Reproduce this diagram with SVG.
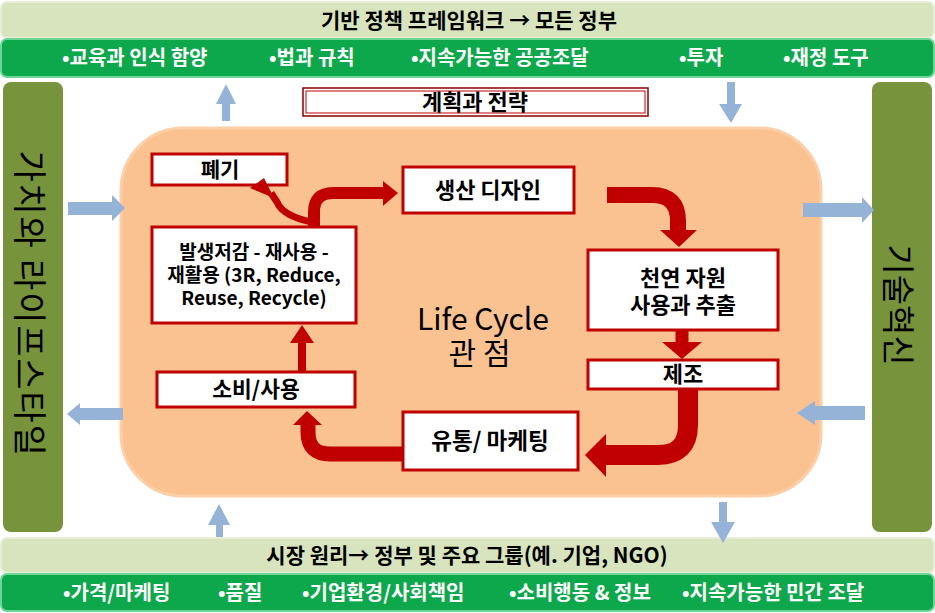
<svg xmlns="http://www.w3.org/2000/svg" width="935" height="613" viewBox="0 0 935 613">
<defs>
<style>
.k{font-family:"Noto Sans CJK KR","Liberation Sans",sans-serif;}
.lb{fill:#D8E4BE;stroke:#E6EED6;stroke-width:2;}
.dg{fill:#0DA84C;stroke:#6FD596;stroke-width:2;}
.ol{fill:#77933C;}
.node{fill:#FFFFFF;stroke:#C00000;stroke-width:3;}
.bt{font-weight:bold;fill:#000;text-anchor:middle;}
.wt{font-size:20px;font-weight:bold;fill:#FFF;}
.ba{fill:#95B3D7;}
.ra{fill:none;stroke:#C00000;stroke-linejoin:round;}
.rh{fill:#C00000;}
</style>
</defs>
<rect width="935" height="613" fill="#FFFFFF"/>

<g id="top-policy">
<rect class="lb" x="1" y="2" width="933" height="36" rx="6"/>
<text class="k bt" x="469" y="28" font-size="21">기반 정책 프레임워크 → 모든 정부</text>
<rect class="dg" x="1" y="39" width="933" height="38" rx="6"/>
<g class="k wt">
<text x="62" y="65">•교육과 인식 함양</text>
<text x="269" y="65">•법과 규칙</text>
<text x="411" y="65">•지속가능한 공공조달</text>
<text x="679" y="65">•투자</text>
<text x="783" y="65">•재정 도구</text>
</g>
</g>

<g id="bottom-market">
<rect class="lb" x="1" y="538" width="933" height="35" rx="6"/>
<text class="k bt" x="467" y="563" font-size="21">시장 원리→ 정부 및 주요 그룹(예. 기업, NGO)</text>
<rect class="dg" x="1" y="574" width="933" height="37" rx="6"/>
<g class="k wt">
<text x="63" y="600">•가격/마케팅</text>
<text x="218" y="600">•품질</text>
<text x="302" y="600">•기업환경/사회책임</text>
<text x="509" y="600">•소비행동 &amp; 정보</text>
<text x="682" y="600">•지속가능한 민간 조달</text>
</g>
</g>

<g id="values-lifestyle">
<rect class="ol" x="3" y="82" width="60" height="450" rx="8"/>
<text class="k" transform="translate(31,304) rotate(90)" font-size="34" letter-spacing="1.8" text-anchor="middle" dominant-baseline="central" fill="#000">가치와 라이프스타일</text>
</g>

<g id="tech-innovation">
<rect class="ol" x="872" y="82" width="60" height="450" rx="8"/>
<text class="k" transform="translate(900,305) rotate(90)" font-size="33" text-anchor="middle" dominant-baseline="central" fill="#000">기술혁신</text>
</g>

<g id="life-cycle-area">
<rect x="121" y="128" width="700" height="368" rx="62" fill="#FAC191" stroke="#FBCFA8" stroke-width="3"/>
<text class="k" font-size="30" text-anchor="middle" fill="#000"><tspan x="483" y="330">Life Cycle</tspan><tspan x="483" y="364" letter-spacing="7">관점</tspan></text>
</g>

<g id="planning">
<rect x="303" y="88" width="345" height="28" fill="#FFF" stroke="#8B0000" stroke-width="1.5"/>
<rect x="306" y="91" width="339" height="22" fill="none" stroke="#C00000" stroke-width="1"/>
<text class="k bt" x="475" y="110" font-size="22">계획과 전략</text>
</g>

<g id="disposal">
<rect class="node" x="152" y="154" width="135" height="31"/>
<text class="k bt" x="220" y="177" font-size="21">폐기</text>
</g>

<g id="design">
<rect class="node" x="403" y="167" width="171" height="46"/>
<text class="k bt" x="488" y="198" font-size="22">생산 디자인</text>
</g>

<g id="reduce-reuse-recycle">
<rect class="node" x="152" y="227" width="204" height="96"/>
<text class="k bt" font-size="19"><tspan x="254" y="259">발생저감 - 재사용 -</tspan><tspan x="254" y="282">재활용 (3R, Reduce,</tspan><tspan x="254" y="305">Reuse, Recycle)</tspan></text>
</g>

<g id="natural-resources">
<rect class="node" x="588" y="250" width="190" height="80"/>
<text class="k bt" font-size="22"><tspan x="683" y="286">천연 자원</tspan><tspan x="683" y="313">사용과 추출</tspan></text>
</g>

<g id="manufacturing">
<rect class="node" x="588" y="360" width="190" height="29"/>
<text class="k bt" x="683" y="382" font-size="22">제조</text>
</g>

<g id="consumption">
<rect class="node" x="157" y="372" width="198" height="35"/>
<text class="k bt" x="256" y="397" font-size="21.5">소비/사용</text>
</g>

<g id="distribution">
<rect class="node" x="403" y="412" width="175" height="58"/>
<text class="k bt" x="490" y="449" font-size="22.5">유통/ 마케팅</text>
</g>

<g id="connectors">
<polygon class="ba" points="222,121 222,104 216,104 226,84 236,104 230,104 230,121"/>
<polygon class="ba" points="727,82 735,82 735,104 742,104 731,123 719,104 727,104"/>
<polygon class="ba" points="68,202 112,202 112,195 125,208 112,221 112,215 68,215"/>
<polygon class="ba" points="123,408 80,408 80,403 67,414 80,425 80,420 123,420"/>
<polygon class="ba" points="803,203 862,203 862,197 874,210 862,223 862,217 803,217"/>
<polygon class="ba" points="865,406 815,406 815,401 797,413 815,425 815,420 865,420"/>
<polygon class="ba" points="216,537 216,525 208,525 219,504 230,525 223,525 223,537"/>
<polygon class="ba" points="719,502 727,502 727,522 735,522 723,543 711,522 719,522"/>

<path class="ra" stroke-width="16" d="M607,195 H652 Q678,195 678,221 V231"/>
<polygon class="rh" points="660,230 697,230 679,247"/>

<path class="ra" stroke-width="13" d="M682,330 V343"/>
<polygon class="rh" points="662,342 702,342 682,359"/>

<path class="ra" stroke-width="20" d="M688,389 V425 Q688,455 658,455 H604"/>
<polygon class="rh" points="606,434 606,477 585,455"/>

<path class="ra" stroke-width="15" d="M403,454 H330 Q308,454 308,432 V424"/>
<polygon class="rh" points="293,425 322,425 307,411"/>

<path class="ra" stroke-width="8" d="M302,372 V341"/>
<polygon class="rh" points="290,343 314,343 302,325"/>

<path class="ra" stroke-width="12" d="M314,228 V212 Q314,193 333,193 H385"/>
<polygon class="rh" points="383,181 383,206 398,193"/>

<path class="ra" stroke-width="7" d="M312,222 C292,218 281,212 277,202 L271,193"/>
<polygon class="rh" points="250,188 264,178 274,198"/>
</g>
</svg>
